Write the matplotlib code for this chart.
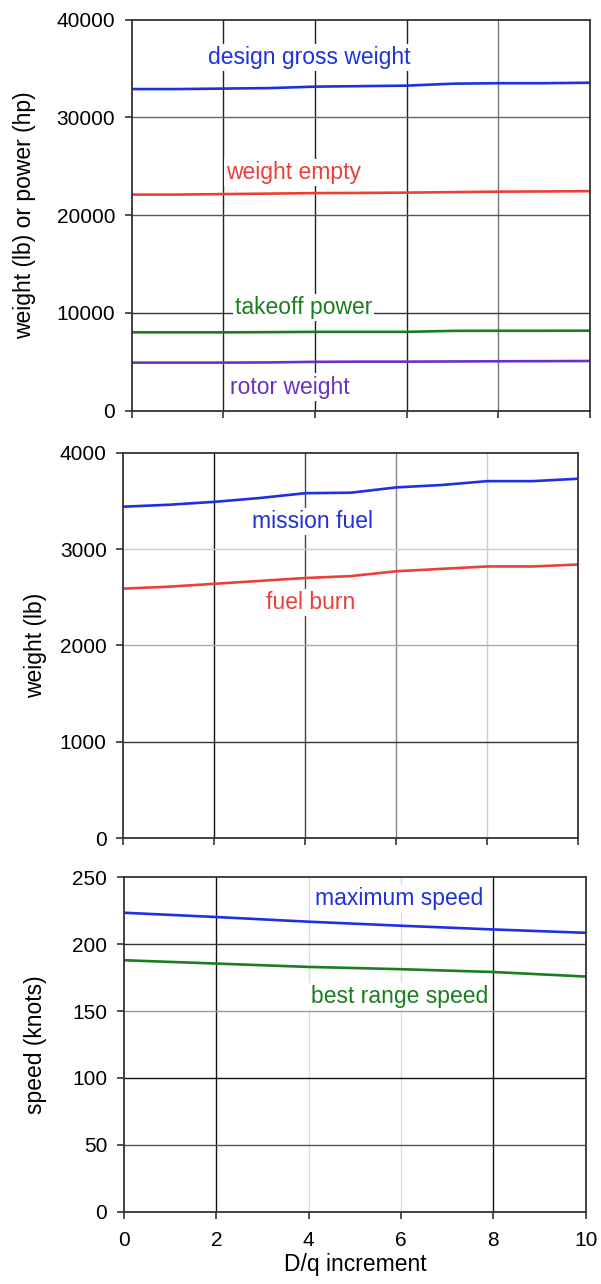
import matplotlib
matplotlib.use('Agg')
import matplotlib.pyplot as plt

plt.rcParams['font.family'] = ['Liberation Sans', 'DejaVu Sans']

# D/q increment
dq = [0, 1, 2, 3, 4, 5, 6, 7, 8, 9, 10]
dq_even = [0, 2, 4, 6, 8, 10]

# top panel: weights (lb) and power (hp)
gross_weight = [32900, 32900, 32950, 33000, 33150, 33200, 33250, 33450, 33500, 33500, 33550]
empty_weight = [22100, 22100, 22150, 22200, 22250, 22270, 22300, 22350, 22400, 22420, 22450]
takeoff_power = [8000, 8000, 8000, 8020, 8050, 8050, 8050, 8150, 8160, 8160, 8170]
rotor_weight = [4900, 4900, 4900, 4920, 4980, 5000, 5000, 5020, 5040, 5050, 5070]

# middle panel: fuel (lb)
mission_fuel = [3440, 3460, 3490, 3530, 3580, 3585, 3640, 3665, 3705, 3705, 3730]
fuel_burn = [2590, 2610, 2640, 2670, 2700, 2720, 2770, 2795, 2820, 2820, 2840]

# bottom panel: speed (knots)
max_speed = [223.5, 220.3, 216.8, 213.8, 211.0, 208.5]
range_speed = [188.0, 185.5, 183.0, 181.3, 179.2, 175.8]

blue = '#1f30e0'
red = '#ea4038'
green = '#1b7d1f'
purple = '#6a32c4'

W, H = 601, 1284
fig = plt.figure(figsize=(W / 100, H / 100), dpi=100)

def make_axes(x0, y0, x1, y1):
    return fig.add_axes([x0 / W, 1 - y1 / H, (x1 - x0) / W, (y1 - y0) / H])

def style(ax, ymax, ystep, vcols, hcols, xlabels):
    ax.set_xlim(0, 10)
    ax.set_ylim(0, ymax)
    ax.set_xticks(range(0, 11, 2))
    ax.set_yticks(range(0, ymax + 1, ystep))
    for x, c in zip([2, 4, 6, 8], vcols):
        ax.axvline(x, color=c, lw=1.0, zorder=0)
    for k, c in enumerate(hcols):
        ax.axhline(ystep * (k + 1), color=c, lw=1.0, zorder=0)
    for s in ax.spines.values():
        s.set_color('#333333')
        s.set_linewidth(1.3)
    ax.tick_params(direction='out', length=5, width=1.2, color='#333333',
                   labelsize=15, pad=7)
    ax.tick_params(axis='x', pad=9)
    if not xlabels:
        ax.set_xticklabels([])

def label(ax, x, y, s, c):
    ax.text(x, y, s, color=c, fontsize=16.5, ha='center', va='center', zorder=3,
            bbox=dict(facecolor='white', edgecolor='none', pad=1.5))

# top
ax1 = make_axes(131.7, 19.7, 590, 410.5)
style(ax1, 40000, 10000, ['#222222', '#222222', '#222222', '#777777'],
      ['#333333', '#555555', '#666666'], False)
ax1.plot(dq, gross_weight, color=blue, lw=1.9)
ax1.plot(dq, empty_weight, color=red, lw=1.9)
ax1.plot(dq, takeoff_power, color=green, lw=1.9)
ax1.plot(dq, rotor_weight, color=purple, lw=1.9)
label(ax1, 3.87, 36100, 'design gross weight', blue)
label(ax1, 3.53, 24400, 'weight empty', red)
label(ax1, 3.75, 10550, 'takeoff power', green)
label(ax1, 3.46, 2400, 'rotor weight', purple)
ax1.set_ylabel('weight (lb) or power (hp)', fontsize=16.5, labelpad=15)

# middle
ax2 = make_axes(123.3, 452.7, 578.3, 838.3)
style(ax2, 4000, 1000, ['#111111', '#444444', '#888888', '#cccccc'],
      ['#333333', '#aaaaaa', '#cccccc'], False)
ax2.plot(dq, mission_fuel, color=blue, lw=1.9)
ax2.plot(dq, fuel_burn, color=red, lw=1.9)
label(ax2, 4.15, 3290, 'mission fuel', blue)
label(ax2, 4.12, 2450, 'fuel burn', red)
ax2.set_ylabel('weight (lb)', fontsize=16.5, labelpad=9)

# bottom
ax3 = make_axes(124, 877.3, 585.7, 1211.7)
style(ax3, 250, 50, ['#111111', '#dddddd', '#dddddd', '#111111'],
      ['#555555', '#111111', '#999999', '#333333'], True)
ax3.plot(dq_even, max_speed, color=blue, lw=1.9)
ax3.plot(dq_even, range_speed, color=green, lw=1.9)
label(ax3, 5.96, 234, 'maximum speed', blue)
label(ax3, 5.96, 161, 'best range speed', green)
ax3.set_ylabel('speed (knots)', fontsize=16.5, labelpad=18)
ax3.set_xlabel('D/q increment', fontsize=16.5, labelpad=2)

fig.savefig('out.png', dpi=100)
plt.close(fig)
